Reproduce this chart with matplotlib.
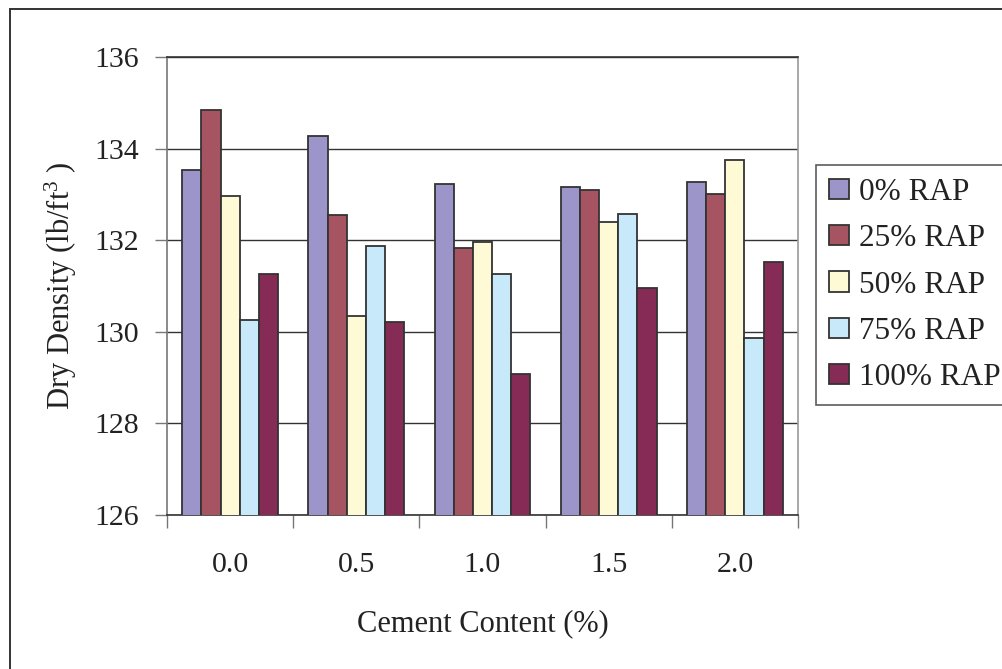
import matplotlib
matplotlib.use("Agg")
import matplotlib.pyplot as plt
from matplotlib.patches import Rectangle
import numpy as np

plt.rcParams["font.family"] = ["Liberation Serif", "DejaVu Serif"]
plt.rcParams["mathtext.fontset"] = "custom"
plt.rcParams["mathtext.rm"] = "Liberation Serif"
plt.rcParams["mathtext.it"] = "Liberation Serif:italic"
plt.rcParams["mathtext.bf"] = "Liberation Serif:bold"

# Cement content categories and dry density per RAP blend (lb/ft^3)
cement_content = ["0.0", "0.5", "1.0", "1.5", "2.0"]
rap_0 = [133.54, 134.28, 133.23, 133.16, 133.26]
rap_25 = [134.85, 132.55, 131.83, 133.10, 133.01]
rap_50 = [132.97, 130.35, 131.97, 132.40, 133.76]
rap_75 = [130.26, 131.88, 131.27, 132.58, 129.87]
rap_100 = [131.27, 130.22, 129.08, 130.96, 131.53]

series_labels = ["0% RAP", "25% RAP", "50% RAP", "75% RAP", "100% RAP"]
series_values = [rap_0, rap_25, rap_50, rap_75, rap_100]
series_colors = ["#9B95C9", "#A65461", "#FFFAD6", "#C8E9F9", "#852B55"]

W, H = 1003, 669
fig = plt.figure(figsize=(W / 100, H / 100), dpi=100)

# Outer chart frame
fig.patches.append(Rectangle((10 / W, -0.05), 1.2, 1 - 9 / H + 0.05,
                             transform=fig.transFigure, fill=False,
                             edgecolor="#333333", linewidth=1.4))

left, right, top, bottom = 167, 798, 57, 515
ax = fig.add_axes([left / W, (H - bottom) / H, (right - left) / W, (bottom - top) / H])

x = np.arange(len(cement_content))
width = 0.152
for j, (vals, col, lab) in enumerate(zip(series_values, series_colors, series_labels)):
    ax.bar(x + (j - 2) * width, vals, width=width, color=col, edgecolor="#333333",
           linewidth=1.3, label=lab, zorder=3)

ax.set_xlim(-0.5, len(cement_content) - 0.5)
ax.set_ylim(126, 136)
ax.set_yticks([126, 128, 130, 132, 134, 136])
ax.yaxis.grid(True, color="#333333", linewidth=1.0, zorder=0)

# Category boundaries carry the ticks, labels sit at category centres
ax.set_xticks(np.arange(-0.5, len(cement_content), 1.0))
ax.set_xticklabels([])
ax.set_xticks(x, minor=True)
ax.set_xticklabels(cement_content, minor=True)
ax.tick_params(axis="x", which="major", length=9, width=1.0, color="#777777", direction="out")
ax.tick_params(axis="x", which="minor", length=0, pad=27, labelsize=21.5, labelcolor="#222222")
ax.tick_params(axis="y", length=9, width=1.0, color="#777777", direction="out",
               pad=11, labelsize=21.5, labelcolor="#222222")

ax.spines["left"].set_color("#777777")
ax.spines["bottom"].set_color("#333333")
ax.spines["top"].set_color("#333333")
ax.spines["right"].set_color("#999999")
for s in ax.spines.values():
    s.set_linewidth(1.2)

ax.set_xlabel("Cement Content (%)", fontsize=22, color="#222222", labelpad=22)
ax.set_ylabel("Dry Density (lb/ft$^{3}$ )", fontsize=22, color="#222222", labelpad=11)

leg = ax.legend(loc="upper left", bbox_to_anchor=(816 / W, 1 - 165 / H),
                bbox_transform=fig.transFigure, frameon=True, fancybox=False,
                fontsize=22.5, handlelength=0.65, handleheight=0.62,
                handletextpad=0.3, borderpad=0.42, labelspacing=0.55,
                borderaxespad=0)
leg.get_frame().set_edgecolor("#333333")
leg.get_frame().set_linewidth(1.2)
for t in leg.get_texts():
    t.set_color("#222222")

fig.savefig("out.png", dpi=100)
